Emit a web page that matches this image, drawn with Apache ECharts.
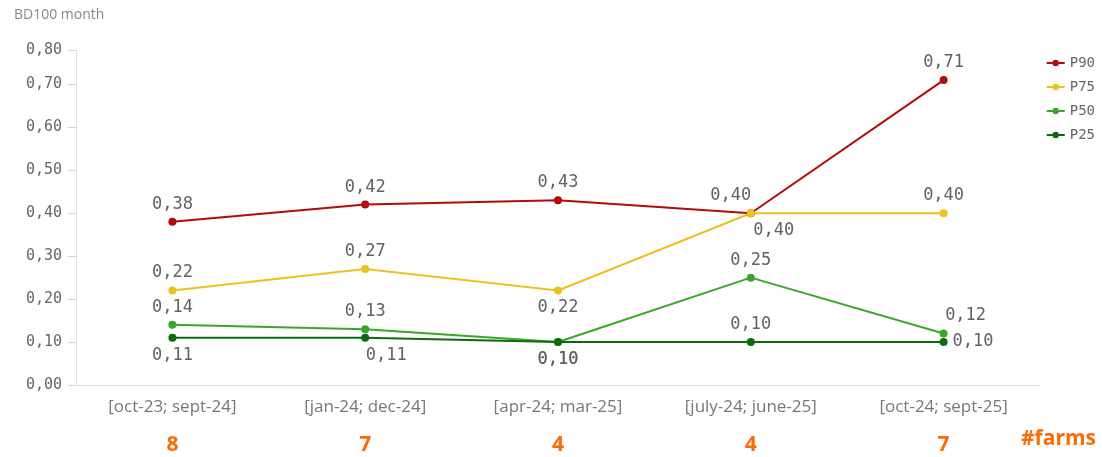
<!DOCTYPE html>
<html>
<head>
<meta charset="utf-8">
<script src="https://cdn.jsdelivr.net/npm/echarts@6/dist/echarts.min.js"></script>
<style>
  html, body { margin: 0; padding: 0; background: #ffffff; }
  #chart { width: 1102px; height: 457px; }
</style>
</head>
<body>
<div id="chart"></div>
<script>
// Rolling 12-month windows
const categories = ['[oct-23; sept-24]', '[jan-24; dec-24]', '[apr-24; mar-25]', '[july-24; june-25]', '[oct-24; sept-25]'];
// Number of farms in each window
const farms = [8, 7, 4, 4, 7];
// Percentiles of BD100 per month
const p90 = [0.38, 0.42, 0.43, 0.40, 0.71];
const p75 = [0.22, 0.27, 0.22, 0.40, 0.40];
const p50 = [0.14, 0.13, 0.10, 0.25, 0.12];
const p25 = [0.11, 0.11, 0.10, 0.10, 0.10];

const MONO = '"DejaVu Sans Mono", monospace';
const SANS = '"Open Sans", Roboto, sans-serif';

// Where each point's value label sits (to keep crowded labels apart)
const placement = {
  P90: [{}, {}, {}, { dx: -20 }, {}],
  P75: [{}, {}, { position: 'bottom' }, { position: 'bottom', dx: 23 }, {}],
  P50: [{}, {}, { position: 'bottom' }, {}, { dx: 22 }],
  P25: [{ position: 'bottom' }, { position: 'bottom', dx: 21 }, { position: 'bottom' }, {}, { position: 'right' }]
};

function fmt(v, digits) {
  return v.toFixed(digits).replace('.', ',');
}

function makeSeries(name, values, color) {
  return {
    name: name,
    type: 'line',
    data: values.map((v, i) => {
      const p = placement[name][i];
      const item = { value: v };
      if (p.position) item.label = { position: p.position };
      return item;
    }),
    symbol: 'circle',
    symbolSize: 8,
    lineStyle: { width: 2, color: color },
    itemStyle: { color: color },
    label: {
      show: true,
      position: 'top',
      distance: 5,
      fontFamily: MONO,
      fontSize: 17,
      color: '#626262',
      formatter: p => fmt(p.value, 2)
    },
    labelLayout: params => {
      const p = placement[name][params.dataIndex] || {};
      return { dx: p.dx || 0, dy: p.dy || 0, hideOverlap: false };
    },
    emphasis: { disabled: true },
    animation: false
  };
}

const chart = echarts.init(document.getElementById('chart'), null, { renderer: 'canvas' });
chart.setOption({
  backgroundColor: '#ffffff',
  animation: false,
  grid: { left: 76, right: 62, top: 50, bottom: 72 },
  legend: {
    orient: 'vertical',
    right: 2,
    top: 51,
    itemWidth: 18,
    itemHeight: 8,
    itemGap: 10,
    textStyle: { fontFamily: MONO, fontSize: 14, color: '#666666' },
    data: ['P90', 'P75', 'P50', 'P25']
  },
  xAxis: [
    {
      type: 'category',
      data: categories,
      boundaryGap: true,
      axisLine: { lineStyle: { color: '#e0e0e0', width: 1 } },
      axisTick: { show: false },
      axisLabel: { margin: 14, fontFamily: SANS, fontSize: 17, color: '#777777' },
      splitLine: { show: false }
    },
    {
      type: 'category',
      data: farms.map(String),
      position: 'bottom',
      offset: 40,
      boundaryGap: true,
      axisLine: { show: false },
      axisTick: { show: false },
      axisLabel: { margin: 10, fontFamily: SANS, fontSize: 21, fontWeight: 'bold', color: '#ff6a00' },
      splitLine: { show: false }
    }
  ],
  yAxis: {
    type: 'value',
    min: 0,
    max: 0.78,
    interval: 0.1,
    axisLine: { show: true, lineStyle: { color: '#e0e0e0', width: 1 } },
    axisTick: { show: true, length: 8, lineStyle: { color: '#d6d6d6' } },
    axisLabel: {
      margin: 14,
      showMaxLabel: true,
      fontFamily: MONO,
      fontSize: 15,
      color: '#666666',
      formatter: v => fmt(Math.round(v * 10) / 10, 2)
    },
    splitLine: { show: false }
  },
  graphic: [
    {
      type: 'text',
      left: 14,
      top: 8,
      style: { text: 'BD100 month', fontFamily: SANS, fontSize: 14, fill: '#888888' }
    },
    {
      type: 'text',
      right: 6,
      top: 429,
      style: { text: '#farms', fontFamily: SANS, fontSize: 21, fontWeight: 'bold', fill: '#ff6a00' }
    }
  ],
  series: [
    makeSeries('P90', p90, '#b40a0a'),
    makeSeries('P75', p75, '#eec21c'),
    makeSeries('P50', p50, '#3aa72a'),
    makeSeries('P25', p25, '#0b6b0b')
  ]
});
</script>
</body>
</html>
